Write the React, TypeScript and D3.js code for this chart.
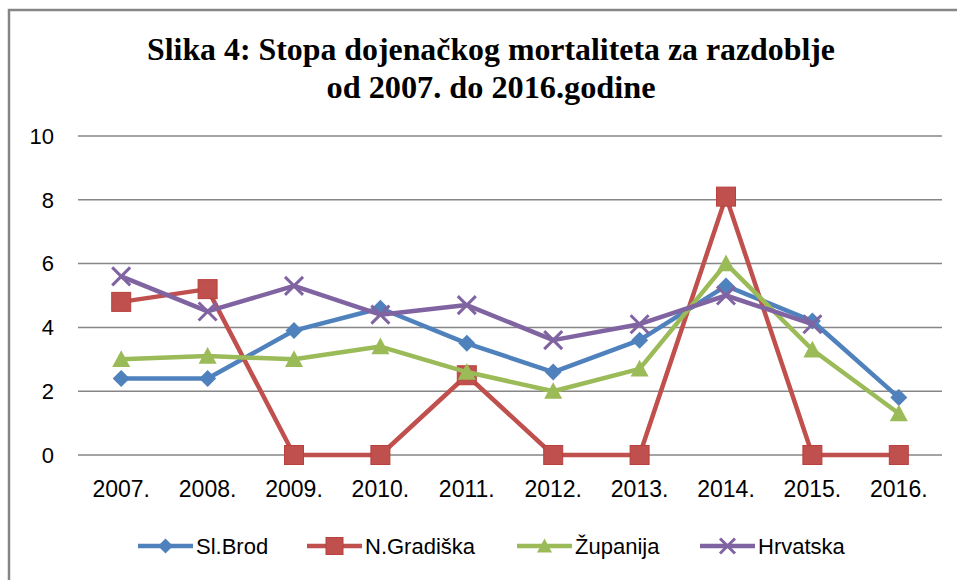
import React, { useEffect, useRef } from 'react';
import * as d3 from 'd3';

const years = ['2007.', '2008.', '2009.', '2010.', '2011.', '2012.', '2013.', '2014.', '2015.', '2016.'];
const slBrod = [2.4, 2.4, 3.9, 4.6, 3.5, 2.6, 3.6, 5.3, 4.2, 1.8];
const nGradiska = [4.8, 5.2, 0, 0, 2.5, 0, 0, 8.1, 0, 0];
const zupanija = [3.0, 3.1, 3.0, 3.4, 2.6, 2.0, 2.7, 6.0, 3.3, 1.3];
const hrvatska: (number | null)[] = [5.6, 4.5, 5.3, 4.4, 4.7, 3.6, 4.1, 5.0, 4.1, null];
const yTicks = [0, 2, 4, 6, 8, 10];

const seriesList = [
  { name: 'Sl.Brod', values: slBrod, color: '#4F81BD', marker: 'diamond' },
  { name: 'N.Gradiška', values: nGradiska, color: '#C0504D', marker: 'square' },
  { name: 'Županija', values: zupanija, color: '#9BBB59', marker: 'triangle' },
  { name: 'Hrvatska', values: hrvatska, color: '#8064A2', marker: 'x' },
];

const WIDTH = 957;
const HEIGHT = 580;
const FONT = '"Liberation Sans", Arial, sans-serif';

// draws one marker centred on (0,0) inside the given group
const drawMarker = (g: d3.Selection<SVGGElement, unknown, null, undefined>, type: string, color: string, size: number) => {
  const h = size / 2;
  if (type === 'diamond') {
    g.append('path').attr('d', `M0,${-h}L${h},0L0,${h}L${-h},0Z`).attr('fill', color);
  } else if (type === 'square') {
    g.append('rect').attr('x', -h).attr('y', -h).attr('width', size).attr('height', size)
      .attr('fill', color).attr('stroke', '#b8403d').attr('stroke-width', 1);
  } else if (type === 'triangle') {
    g.append('path').attr('d', `M0,${-h}L${h},${h * 0.85}L${-h},${h * 0.85}Z`).attr('fill', color);
  } else {
    g.append('path').attr('d', `M${-h},${-h}L${h},${h}M${-h},${h}L${h},${-h}`)
      .attr('stroke', color).attr('stroke-width', 3).attr('fill', 'none');
  }
};

export default function App() {
  const svgRef = useRef<SVGSVGElement>(null);

  useEffect(() => {
    if (!svgRef.current) return;
    const svg = d3.select(svgRef.current);
    svg.selectAll('*').remove();

    const plot = { left: 78, right: 942, top: 136, bottom: 455 };

    const x = d3.scaleBand<string>()
      .domain(years)
      .range([plot.left, plot.right]);

    const y = d3.scaleLinear()
      .domain([0, 10])
      .range([plot.bottom, plot.top]);

    const cx = (i: number) => (x(years[i]) || 0) + x.bandwidth() / 2;

    // chart border (right and bottom edges fall outside the picture)
    svg.append('rect')
      .attr('x', 9).attr('y', 10)
      .attr('width', WIDTH + 20).attr('height', HEIGHT + 20)
      .attr('fill', '#fff').attr('stroke', '#868686').attr('stroke-width', 2.5);

    // title
    const title = svg.append('text')
      .attr('text-anchor', 'middle')
      .attr('font-family', '"Liberation Serif", "Times New Roman", serif')
      .attr('font-weight', 'bold')
      .attr('font-size', 32)
      .attr('fill', '#000');
    title.append('tspan').attr('x', 491).attr('y', 60)
      .attr('textLength', 688).attr('lengthAdjust', 'spacingAndGlyphs')
      .text('Slika 4: Stopa dojenačkog mortaliteta za razdoblje');
    title.append('tspan').attr('x', 491).attr('y', 98)
      .attr('textLength', 329).attr('lengthAdjust', 'spacingAndGlyphs')
      .text('od 2007. do 2016.godine');

    // gridlines
    svg.append('g')
      .selectAll('line')
      .data(yTicks)
      .join('line')
      .attr('x1', plot.left).attr('x2', plot.right)
      .attr('y1', d => y(d)).attr('y2', d => y(d))
      .attr('stroke', '#868686').attr('stroke-width', 1.5);

    // y tick labels
    svg.append('g')
      .selectAll('text')
      .data(yTicks)
      .join('text')
      .attr('x', 54)
      .attr('y', d => y(d))
      .attr('dy', '0.35em')
      .attr('text-anchor', 'end')
      .attr('font-family', FONT)
      .attr('font-size', 22)
      .attr('fill', '#000')
      .text(d => d);

    // x labels
    svg.append('g')
      .selectAll('text')
      .data(years)
      .join('text')
      .attr('x', (_, i) => cx(i))
      .attr('y', 497)
      .attr('text-anchor', 'middle')
      .attr('font-family', FONT)
      .attr('font-size', 23)
      .attr('fill', '#000')
      .text(d => d);

    // series lines + markers
    seriesList.forEach(s => {
      const line = d3.line<number | null>()
        .defined(d => d !== null)
        .x((_, i) => cx(i))
        .y(d => y(d as number));

      svg.append('path')
        .datum(s.values)
        .attr('fill', 'none')
        .attr('stroke', s.color)
        .attr('stroke-width', 4.5)
        .attr('stroke-linejoin', 'round')
        .attr('d', line);

      const size = s.marker === 'square' ? 19 : s.marker === 'diamond' ? 17 : 18;
      s.values.forEach((v, i) => {
        if (v === null) return;
        const g = svg.append('g').attr('transform', `translate(${cx(i)},${y(v)})`);
        drawMarker(g, s.marker, s.color, size);
      });
    });

    // legend
    const legendX = [138, 307, 517, 700];
    const ly = 546;
    seriesList.forEach((s, i) => {
      const lx = legendX[i];
      svg.append('line')
        .attr('x1', lx).attr('x2', lx + 55)
        .attr('y1', ly).attr('y2', ly)
        .attr('stroke', s.color).attr('stroke-width', 4.5);
      const g = svg.append('g').attr('transform', `translate(${lx + 27.5},${ly})`);
      drawMarker(g, s.marker, s.color, s.marker === 'square' ? 17 : 15);
      svg.append('text')
        .attr('x', lx + 58)
        .attr('y', ly)
        .attr('dy', '0.35em')
        .attr('font-family', FONT)
        .attr('font-size', 22)
        .attr('fill', '#000')
        .text(s.name);
    });
  }, []);

  return (
    <svg
      ref={svgRef}
      width={WIDTH}
      height={HEIGHT}
      style={{ position: 'absolute', left: 0, top: 0, background: '#fff' }}
    />
  );
}
